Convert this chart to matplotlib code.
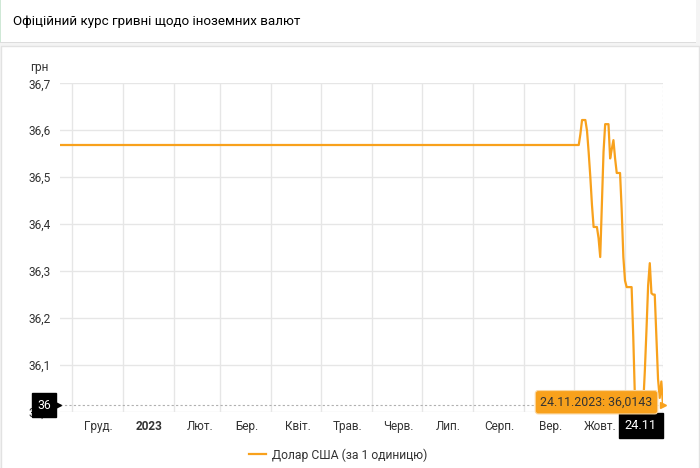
import matplotlib
matplotlib.use("Agg")
import matplotlib.pyplot as plt
import matplotlib.dates as mdates
import matplotlib.transforms as mtransforms
from matplotlib.patches import Rectangle
import pandas as pd

plt.rcParams['font.family'] = ['Roboto', 'DejaVu Sans']

# data: official UAH/USD rate
dates = ['2022-11-24', '2023-10-03', '2023-10-04', '2023-10-05', '2023-10-06',
         '2023-10-07', '2023-10-08', '2023-10-09', '2023-10-10', '2023-10-11',
         '2023-10-12', '2023-10-13', '2023-10-14', '2023-10-15', '2023-10-16',
         '2023-10-17', '2023-10-18', '2023-10-19', '2023-10-20', '2023-10-21',
         '2023-10-22', '2023-10-23', '2023-10-24', '2023-10-25', '2023-10-26',
         '2023-10-27', '2023-10-28', '2023-10-29', '2023-10-30', '2023-10-31',
         '2023-11-01', '2023-11-02', '2023-11-03', '2023-11-04', '2023-11-05',
         '2023-11-06', '2023-11-07', '2023-11-08', '2023-11-09', '2023-11-10',
         '2023-11-11', '2023-11-12', '2023-11-13', '2023-11-14', '2023-11-15',
         '2023-11-16', '2023-11-17', '2023-11-18', '2023-11-19', '2023-11-20',
         '2023-11-21', '2023-11-22', '2023-11-23', '2023-11-24']
usd = [36.5686, 36.5686, 36.5686, 36.5920, 36.6218,
       36.6218, 36.6218, 36.5990, 36.5530, 36.5010,
       36.4410, 36.3940, 36.3940, 36.3940, 36.3700,
       36.3300, 36.4420, 36.5540, 36.6130, 36.6130,
       36.6130, 36.5400, 36.5600, 36.5790, 36.5400,
       36.5090, 36.5090, 36.5090, 36.4300, 36.3300,
       36.2800, 36.2660, 36.2660, 36.2660, 36.2660,
       36.1600, 36.0300, 36.0120, 36.0100, 36.0150,
       36.0150, 36.0150, 36.0870, 36.1750, 36.2700,
       36.3170, 36.2530, 36.2500, 36.2500, 36.1600,
       36.0700, 36.0300, 36.0650, 36.0143]

month_labels = ['Груд.', '2023', 'Лют.', 'Бер.', 'Квіт.', 'Трав.', 'Черв.',
                'Лип.', 'Серп.', 'Вер.', 'Жовт.']
y_ticks = [36.0, 36.1, 36.2, 36.3, 36.4, 36.5, 36.6, 36.7]

title = 'Офіційний курс гривні щодо іноземних валют'
series_name = 'Долар США (за 1 одиницю)'
line_color = '#f8a11c'
text_color = '#333333'

x = pd.to_datetime(dates)
last_date = x[-1]
last_val = usd[-1]

fig = plt.figure(figsize=(7, 4.68), dpi=100)
fig.patch.set_facecolor('#f4f4f4')

# page background: title card + chart card (pixel coordinates)
bg = fig.add_axes([0, 0, 1, 1], zorder=-5)
bg.set_xlim(0, 700)
bg.set_ylim(468, 0)
bg.axis('off')
bg.add_patch(Rectangle((0, 0), 696, 43, facecolor='#dddddd', edgecolor='none'))
bg.add_patch(Rectangle((0, 0), 696, 41.5, facecolor='white', edgecolor='none'))
bg.add_patch(Rectangle((0, 0), 1.2, 41.5, facecolor='#cfe8d6', edgecolor='none'))
bg.add_patch(Rectangle((1, 46), 698, 430, facecolor='white', edgecolor='#e2e2e2', linewidth=1))
bg.text(13, 21, title, fontsize=9.6, color='#000000', va='center', ha='left')
bg.text(30, 68, 'грн', fontsize=8.6, color=text_color, va='center', ha='left')

ax = fig.add_axes([60 / 700, 56 / 468, 603 / 700, 328.7 / 468])
ax.set_facecolor('none')
ax.plot(x, usd, color=line_color, linewidth=1.6, label=series_name, zorder=3)

ax.set_xlim(pd.Timestamp('2022-11-24'), pd.Timestamp('2023-11-24'))
ax.set_ylim(36.0, 36.7)

# month starts -> grid lines, mid months -> labels
ax.xaxis.set_major_locator(mdates.MonthLocator(bymonthday=1))
ax.xaxis.set_major_formatter(plt.NullFormatter())
mid = pd.date_range('2022-12-01', periods=len(month_labels), freq='MS') + pd.Timedelta(days=16)
ax.set_xticks(mid, minor=True)
ax.set_xticklabels(month_labels, minor=True)
ax.tick_params(axis='x', which='both', length=0)
ax.tick_params(axis='x', which='minor', labelsize=8.5, labelcolor=text_color, pad=6)
for lbl in ax.xaxis.get_minorticklabels():
    if lbl.get_text() == '2023':
        lbl.set_fontweight('bold')

ax.set_yticks(y_ticks)
ax.set_yticklabels([f'{v:.1f}'.replace('.', ',') for v in y_ticks])
ax.tick_params(axis='y', length=0, labelsize=8.6, labelcolor=text_color, pad=7)

ax.grid(True, which='major', color='#e6e6e6', linewidth=1)
for s in ax.spines.values():
    s.set_visible(False)

# crosshairs
ax.axhline(last_val, color='#b0b0b0', linestyle=(0, (2, 2)), linewidth=0.8, zorder=2)
ax.axvline(last_date, color='#b0b0b0', linestyle=(0, (2, 2)), linewidth=0.8, zorder=2)

# y crosshair label
ax.annotate('36', xy=(0, last_val), xycoords=('axes fraction', 'data'),
            xytext=(-6.5, 0), textcoords='offset points', ha='right', va='center',
            fontsize=8.8, color='white', zorder=10, annotation_clip=False,
            bbox=dict(boxstyle='square,pad=0.45', fc='black', ec='black'))
tr = mtransforms.blended_transform_factory(ax.transAxes, ax.transData)
ax.plot([-0.004], [last_val], marker='>', color='black', markersize=5,
        transform=tr, clip_on=False, zorder=10)

# x crosshair label
ax.annotate('24.11', xy=(last_date, 0), xycoords=('data', 'axes fraction'),
            xytext=(-4.5, -9.6), textcoords='offset points', ha='right', va='center',
            fontsize=9.2, color='white', zorder=10, annotation_clip=False,
            bbox=dict(boxstyle='square,pad=0.45', fc='black', ec='black'))

# tooltip
ax.annotate('24.11.2023: 36,0143', xy=(last_date, last_val),
            xytext=(-7.5, 2.2), textcoords='offset points', ha='right', va='center',
            fontsize=8.9, color=text_color, zorder=11, annotation_clip=False,
            bbox=dict(boxstyle='round,pad=0.42,rounding_size=0.25', fc=line_color,
                      ec='#fbd7a0', lw=0.8))
ax.plot([last_date], [last_val], marker='>', color=line_color, markersize=4,
        clip_on=False, zorder=11)

fig.legend(loc='center', bbox_to_anchor=(0.483, 0.028), frameon=False,
           fontsize=8.7, handlelength=1.4, handletextpad=0.5, labelcolor=text_color)

fig.savefig('out.png', dpi=100, facecolor=fig.get_facecolor())
